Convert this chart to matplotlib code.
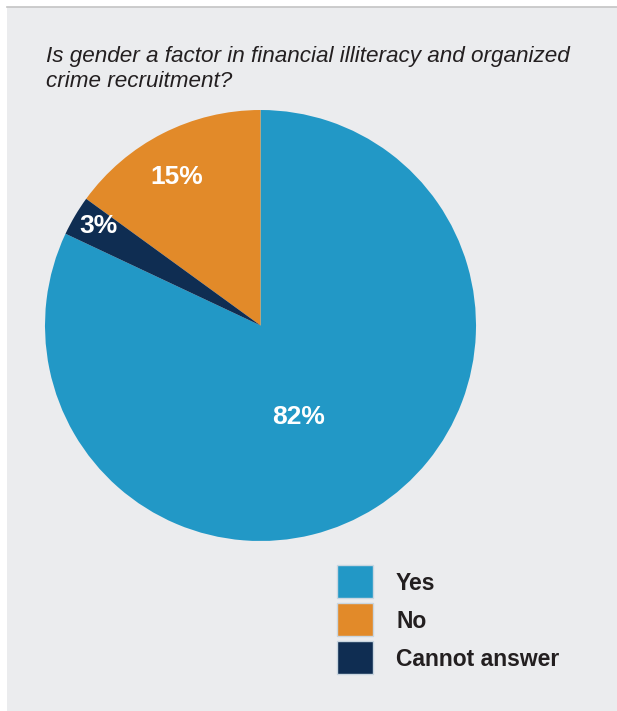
import matplotlib.pyplot as plt
import numpy as np
from matplotlib.patches import Rectangle
from matplotlib.lines import Line2D

plt.rcParams['font.family'] = ['Liberation Sans', 'DejaVu Sans']

title_lines = ["Is gender a factor in financial illiteracy and organized",
               "crime recruitment?"]
answers = ["Yes", "No", "Cannot answer"]
shares = [82, 15, 3]
colors = ["#2298c6", "#e28a29", "#0f2d52"]

W, H = 617, 711
bg = "#ebecee"
ink = "#231f20"

fig = plt.figure(figsize=(W / 100, H / 100), dpi=100, facecolor="white")

# grey panel with a thin rule along its top edge
fig.patches.append(Rectangle((7 / W, -0.01), 1, 1.01 - 7 / H, transform=fig.transFigure,
                             facecolor=bg, edgecolor="none", zorder=-2))
fig.add_artist(Line2D([7 / W, 1], [1 - 7 / H, 1 - 7 / H], transform=fig.transFigure,
                      color="#c4c4c4", lw=1.2))

for i, line in enumerate(title_lines):
    fig.text(46 / W, 1 - (62 + 25 * i) / H, line, fontsize=16.2, style="italic",
             color=ink, ha="left", va="baseline")

# pie: Yes runs clockwise from 12 o'clock, the others follow counter-clockwise
ax = fig.add_axes([45 / W, 170 / H, 431 / W, 431 / H])
ax.set_facecolor(bg)
start = 90 + 360 * (1 - shares[0] / sum(shares))
wedges, _ = ax.pie(shares, colors=colors, startangle=start, counterclock=True,
                   radius=1, wedgeprops=dict(linewidth=0))
ax.set_xlim(-1, 1)
ax.set_ylim(-1, 1)
ax.set_aspect("equal")
ax.axis("off")

label_r = [0.45, 0.80, 0.89]
label_turn = [-9, 2, -1.5]
for w, s, r, d in zip(wedges, shares, label_r, label_turn):
    mid = np.deg2rad((w.theta1 + w.theta2) / 2 + d)
    ax.text(r * np.cos(mid), r * np.sin(mid) - 0.01, f"{s}%", color="white",
            fontsize=19, fontweight="bold", ha="center", va="center")

# legend drawn as plain squares and labels
for i, (name, c) in enumerate(zip(answers, colors)):
    top = 565 + 37.8 * i
    fig.patches.append(Rectangle((337 / W, 1 - (top + 33) / H), 36 / W, 33 / H,
                                 transform=fig.transFigure, facecolor=c,
                                 edgecolor="#c9d6e0", lw=1))
    fig.text(396 / W, 1 - (top + 25) / H, name, fontsize=16.5, fontweight="bold",
             color=ink, ha="left", va="baseline")

fig.savefig("out.png", dpi=100, facecolor=fig.get_facecolor())
